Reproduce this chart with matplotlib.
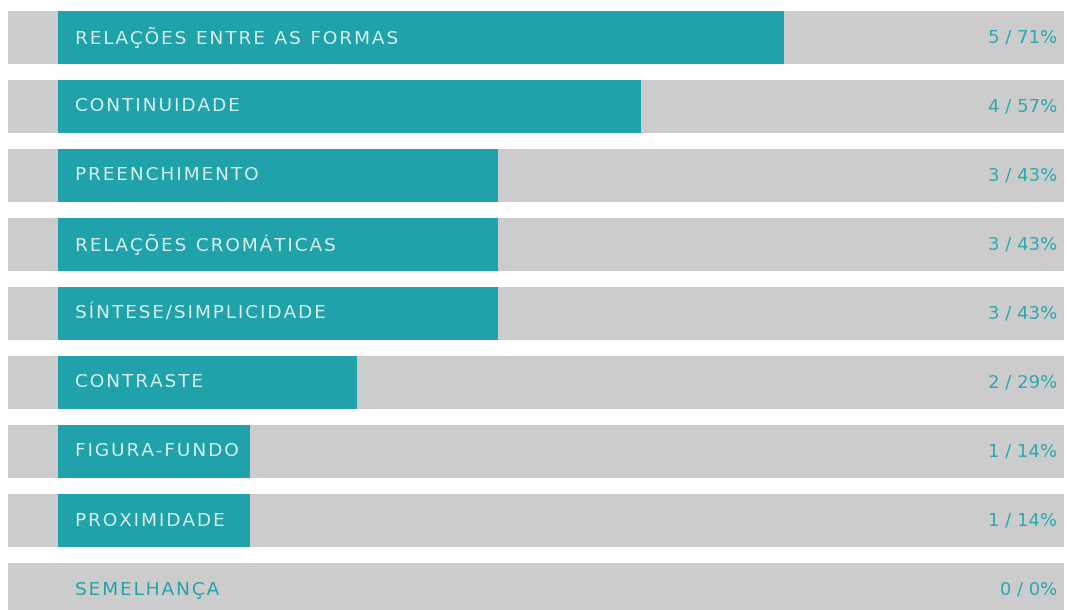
import matplotlib.pyplot as plt

# categories, counts and percentages as shown
labels = ["RELAÇÕES ENTRE AS FORMAS", "CONTINUIDADE", "PREENCHIMENTO",
          "RELAÇÕES CROMÁTICAS", "SÍNTESE/SIMPLICIDADE", "CONTRASTE",
          "FIGURA-FUNDO", "PROXIMIDADE", "SEMELHANÇA"]
counts = [5, 4, 3, 3, 3, 2, 1, 1, 0]
percents = [71, 57, 43, 43, 43, 29, 14, 14, 0]
# drawn bar lengths (percent of track)
bar_len = [71.4, 57.4, 43.3, 43.3, 43.3, 29.4, 18.9, 18.9, 0]

teal = "#1fa2a9"
gray = "#cccccc"

fig = plt.figure(figsize=(10.67, 6.10), dpi=100)
ax = fig.add_axes([0, 0, 1, 1])
ax.set_xlim(-5.71, 99.3)
ax.set_ylim(8.297, -0.543)
ax.axis("off")

rows = range(len(labels))
ax.barh(rows, [103.9] * len(labels), left=-4.92, height=0.768, color=gray)
ax.barh(rows, bar_len, left=0, height=0.768, color=teal)

for i, (lab, c, p, w) in enumerate(zip(labels, counts, percents, bar_len)):
    col = "#d9f1f1" if w > 0 else teal
    spaced = "\u200a".join(lab)  # letter spacing
    ax.text(1.7, i, spaced, color=col, fontsize=13.3, va="center", ha="left",
            family="DejaVu Sans")
    ax.text(98.3, i, f"{c} / {p}%", color="#2aa8ae", fontsize=13,
            va="center", ha="right", family="DejaVu Sans")

fig.savefig("out.png", dpi=100)
